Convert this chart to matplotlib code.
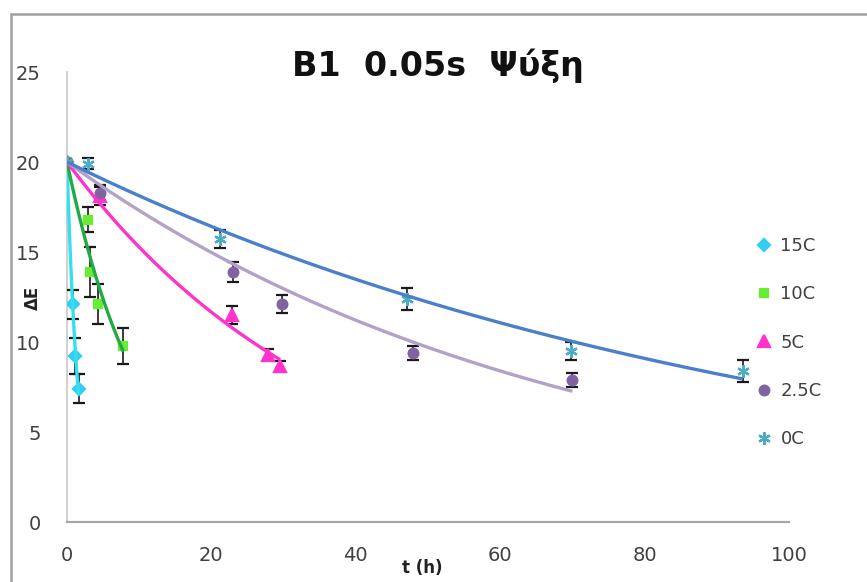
import numpy as np
import matplotlib
matplotlib.use("Agg")
import matplotlib.pyplot as plt
from matplotlib.patches import Rectangle

plt.rcParams['font.family'] = ['DejaVu Sans']

title = "B1  0.05s  Ψύξη"
x_label = "t (h)"
y_label = "ΔE"
x_ticks = [0, 20, 40, 60, 80, 100]
y_ticks = [0, 5, 10, 15, 20, 25]

series_names = ["15C", "10C", "5C", "2.5C", "0C"]

t_15 = [0, 0.8, 1.1, 1.6]
de_15 = [20, 12.1, 9.2, 7.4]
err_15 = [0, 0.8, 1.0, 0.8]

t_10 = [0, 2.9, 3.2, 4.3, 7.8]
de_10 = [20, 16.8, 13.9, 12.1, 9.8]
err_10 = [0, 0.7, 1.4, 1.1, 1.0]

t_5 = [0, 4.6, 22.9, 27.9, 29.5]
de_5 = [20, 18.1, 11.5, 9.3, 8.65]
err_5 = [0, 0.5, 0.5, 0.3, 0.3]

t_25 = [0, 4.6, 23.0, 29.8, 47.9, 70.0]
de_25 = [20, 18.3, 13.9, 12.1, 9.4, 7.9]
err_25 = [0, 0.4, 0.55, 0.5, 0.4, 0.4]

t_0 = [0, 2.9, 21.2, 47.1, 69.8, 93.6]
de_0 = [20, 19.9, 15.7, 12.4, 9.5, 8.4]
err_0 = [0, 0.3, 0.5, 0.6, 0.5, 0.6]

marker_colors = ["#33CCF5", "#66EE33", "#FF33CC", "#8064A2", "#4BACC6"]
line_colors = ["#33E0F0", "#22AA44", "#FF33CC", "#B3A2C7", "#4A7FCC"]
markers = ["D", "s", "^", "o", (6, 2, 0)]
msizes = [6, 6, 8, 7, 9]

data = [(t_15, de_15, err_15), (t_10, de_10, err_10), (t_5, de_5, err_5),
        (t_25, de_25, err_25), (t_0, de_0, err_0)]

W, H = 867, 582
fig = plt.figure(figsize=(W / 100, H / 100), dpi=100)
ax = fig.add_axes([67 / W, (H - 522) / H, 722 / W, 450 / H])

handles = []
for i, (t, y, e) in enumerate(data):
    t = np.asarray(t, float)
    y = np.asarray(y, float)
    e = np.asarray(e, float)
    ax.errorbar(t, y, yerr=e, fmt='none', ecolor='#1a1a1a', elinewidth=1.2,
                capsize=4, capthick=1.6, zorder=3)
    h, = ax.plot(t, y, linestyle='none', marker=markers[i], ms=msizes[i],
                 color=marker_colors[i], mec=marker_colors[i], mew=1.6,
                 label=series_names[i], zorder=4)
    handles.append(h)

# exponential trendlines fitted to the data (intercept = starting value)
for i, (t, y, e) in enumerate(data):
    t = np.asarray(t, float)
    y = np.asarray(y, float)
    y0 = y[0]
    k = -np.sum(t * np.log(y / y0)) / np.sum(t ** 2)
    tt = np.linspace(0, t.max(), 200)
    ax.plot(tt, y0 * np.exp(-k * tt), color=line_colors[i], lw=2.4,
            solid_capstyle='butt', zorder=5)

ax.set_xlim(0, 100)
ax.set_ylim(0, 25)
ax.set_xticks(x_ticks)
ax.set_yticks(y_ticks)
ax.tick_params(length=0, labelsize=14, colors='#404040')
ax.tick_params(axis='x', pad=17)
ax.tick_params(axis='y', pad=19)
for s in ['top', 'right']:
    ax.spines[s].set_visible(False)
ax.spines['bottom'].set_color('#A6A6A6')
ax.spines['bottom'].set_linewidth(1.6)
ax.spines['left'].set_color('#C8C8C8')
ax.spines['left'].set_linewidth(1.2)

fig.text(438 / W, 1 - 66 / H, title, ha='center', va='center',
         fontsize=24, fontweight='bold', color='#111111')
fig.text(422 / W, 1 - 568 / H, x_label, ha='center', va='center',
         fontsize=12, fontweight='bold', color='#222222')
fig.text(33 / W, 1 - 298 / H, y_label, ha='center', va='center',
         fontsize=12, fontweight='bold', rotation=90, color='#222222')

fig.legend(handles=handles, loc='upper left',
           bbox_to_anchor=(748 / W, 1 - 228 / H), frameon=False,
           fontsize=13, labelspacing=1.68, handlelength=0.8,
           handletextpad=0.5, labelcolor='#404040', borderpad=0)

fig.add_artist(Rectangle((11 / W, -0.2), 2.0, (H - 14) / H + 0.2,
                         transform=fig.transFigure, fill=False,
                         edgecolor='#A0A0A0', lw=1.8))

fig.savefig("out.png", dpi=100)
